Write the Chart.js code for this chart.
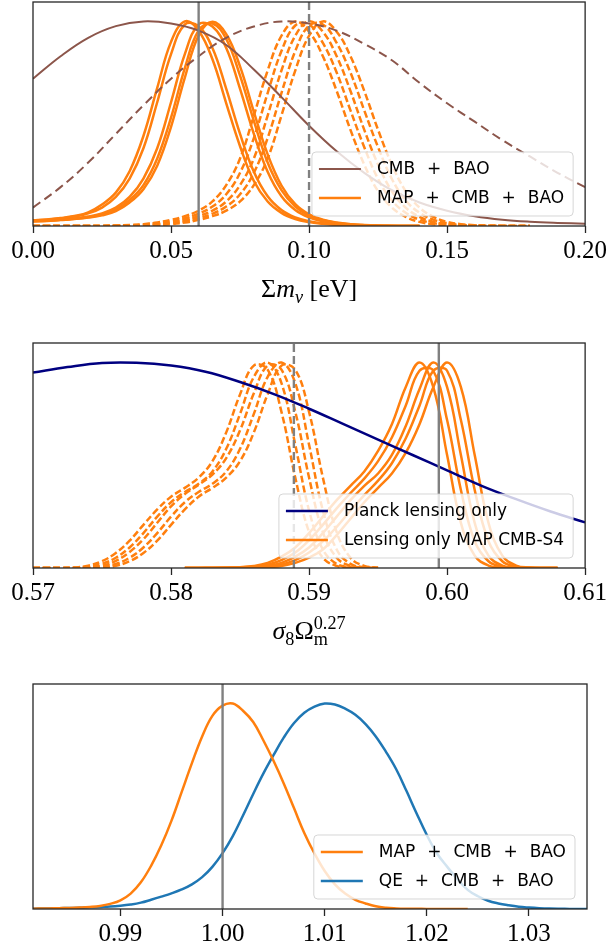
<!DOCTYPE html>
<html lang="en">
<head>
  <meta charset="UTF-8">
  <title>Lensing posteriors</title>
  <script src="https://cdn.jsdelivr.net/npm/chart.js"></script>
  <style>
    html, body { margin: 0; padding: 0; background: #fff; }
    body { width: 610px; height: 952px; position: relative; overflow: hidden; }
    canvas { position: absolute; left: 0; }
  </style>
</head>
<body>

<canvas id="mnuChart" width="610" height="330" style="top:0px"></canvas>
<canvas id="s8Chart" width="610" height="330" style="top:333px"></canvas>
<canvas id="ampChart" width="610" height="278" style="top:674px"></canvas>

<script>
// ---------- top panel: sum of neutrino masses ----------
const mnuGrid = [0,0.005,0.01,0.015,0.02,0.025,0.03,0.035,0.04,0.045,0.05,0.055,0.06,0.065,0.07,0.075,0.08,0.085,0.09,0.095,0.1,0.105,0.11,0.115,0.12,0.125,0.13,0.135,0.14,0.145,0.15,0.155,0.16,0.165,0.17,0.175,0.18,0.185,0.19,0.195,0.2];
const mnuCoarse = [0,0.01,0.02,0.03,0.04,0.05,0.06,0.07,0.08,0.09,0.1,0.11,0.12,0.13,0.14,0.15,0.16,0.17,0.18,0.19,0.2];
const mnuTicks = [0, 0.05, 0.1, 0.15, 0.2];
const mnuTickLabels = ['0.00', '0.05', '0.10', '0.15', '0.20'];
const mnuFiducial = 0.06;
const mnuShifted = 0.10;

// CMB + BAO alone (solid: fiducial sims, dashed: shifted sims)
const cmbBaoFid = [0.72,0.83,0.92,0.977,1.0,0.99,0.955,0.885,0.765,0.63,0.49,0.365,0.26,0.175,0.115,0.075,0.048,0.031,0.021,0.015,0.011];
const cmbBaoShift = [0.09,0.19,0.31,0.45,0.59,0.72,0.83,0.92,0.975,1.0,0.99,0.955,0.89,0.81,0.70,0.60,0.51,0.42,0.34,0.26,0.19];

// MAP + CMB + BAO, five realisations each
const _ = null;
const mnuMapFid = [
  [0.028,0.032,0.039,0.049,0.067,0.105,0.163,0.268,0.44,0.675,0.90,1.0,0.955,0.815,0.60,0.39,0.22,0.12,0.064,0.034,0.019,0.011,0.0055,0.0023,0.001,0.0005,0,0,0,_,_,_,_,_,_,_,_,_,_,_,_],
  [0.027,0.031,0.037,0.046,0.062,0.09,0.142,0.232,0.38,0.605,0.84,0.985,0.975,0.87,0.67,0.45,0.265,0.145,0.078,0.042,0.023,0.013,0.007,0.003,0.0012,0.0005,0,0,0,_,_,_,_,_,_,_,_,_,_,_,_],
  [0.024,0.027,0.031,0.037,0.046,0.062,0.09,0.142,0.232,0.38,0.605,0.84,0.985,0.975,0.87,0.67,0.45,0.265,0.145,0.078,0.042,0.023,0.013,0.007,0.003,0.0012,0.0005,0,0,_,_,_,_,_,_,_,_,_,_,_,_],
  [0.024,0.026,0.030,0.035,0.043,0.056,0.08,0.127,0.2,0.33,0.53,0.772,0.956,0.99,0.914,0.735,0.514,0.31,0.175,0.095,0.05,0.028,0.015,0.008,0.004,0.0017,0.0005,0,0,_,_,_,_,_,_,_,_,_,_,_,_],
  [0.022,0.025,0.029,0.034,0.041,0.052,0.073,0.115,0.18,0.295,0.485,0.725,0.932,0.998,0.938,0.78,0.558,0.35,0.198,0.107,0.057,0.031,0.017,0.009,0.0045,0.002,0.0008,0,0,_,_,_,_,_,_,_,_,_,_,_,_]
];
const mnuMapShift = [
  [0,0,0,0,0,0.0005,0.002,0.005,0.009,0.017,0.03,0.048,0.075,0.12,0.2,0.33,0.54,0.76,0.93,1.0,0.95,0.83,0.66,0.47,0.30,0.17,0.09,0.045,0.02,0.009,0.004,0.0015,0.0005,0,0,0,0,_,_,_,_],
  [0,0,0,0,0,0.0005,0.001,0.003,0.007,0.013,0.023,0.038,0.06,0.095,0.155,0.26,0.43,0.65,0.855,0.98,0.985,0.895,0.75,0.565,0.385,0.23,0.125,0.065,0.031,0.014,0.006,0.0025,0.001,0.0005,0,0,0,_,_,_,_],
  [0,0,0,0,0,0,0.0005,0.002,0.005,0.009,0.017,0.03,0.048,0.075,0.12,0.2,0.33,0.54,0.76,0.93,1.0,0.95,0.83,0.66,0.47,0.30,0.17,0.09,0.045,0.02,0.009,0.004,0.0015,0.0005,0,0,0,_,_,_,_],
  [0,0,0,0,0,0,0.0005,0.001,0.003,0.007,0.013,0.023,0.038,0.06,0.095,0.155,0.26,0.43,0.65,0.855,0.98,0.985,0.895,0.75,0.565,0.385,0.23,0.125,0.065,0.031,0.014,0.006,0.0025,0.001,0.0005,0,0,_,_,_,_],
  [0,0,0,0,0,0,0,0.0005,0.002,0.005,0.009,0.017,0.03,0.048,0.075,0.12,0.2,0.33,0.54,0.76,0.93,1.0,0.95,0.83,0.66,0.47,0.30,0.17,0.09,0.045,0.02,0.009,0.004,0.0015,0.0005,0,0,_,_,_,_]
];

// ---------- middle panel: sigma8 Omega_m^0.27 ----------
const s8Grid = [0.570,0.571,0.572,0.573,0.574,0.575,0.576,0.577,0.578,0.579,0.580,0.581,0.582,0.583,0.584,0.585,0.586,0.587,0.588,0.589,0.590,0.591,0.592,0.593,0.594,0.595,0.596,0.597,0.598,0.599,0.600,0.601,0.602,0.603,0.604,0.605,0.606,0.607,0.608,0.609,0.610];
const planckGrid = [0.57,0.5725,0.575,0.5775,0.58,0.5825,0.585,0.5875,0.59,0.5925,0.595,0.5975,0.6,0.6025,0.605,0.6075,0.61];
const s8Ticks = [0.57, 0.58, 0.59, 0.60, 0.61];
const s8TickLabels = ['0.57', '0.58', '0.59', '0.60', '0.61'];
const s8Fiducial = 0.5994;
const s8Shifted = 0.5889;

const planckLensing = [0.951,0.978,0.998,0.999,0.985,0.955,0.905,0.845,0.775,0.70,0.625,0.55,0.475,0.40,0.335,0.275,0.222];

const s8MapShift = [
  [0,0,0,0.002,0.011,0.033,0.073,0.133,0.21,0.285,0.347,0.39,0.44,0.52,0.66,0.845,0.985,0.965,0.76,0.44,0.175,0.05,0.01,0.002,0,0,_,_,_,_,_,_,_,_,_,_,_,_,_,_,_],
  [0,0,0,0,0.005,0.02,0.05,0.10,0.17,0.25,0.32,0.37,0.41,0.47,0.58,0.75,0.93,1.0,0.90,0.60,0.28,0.09,0.02,0.004,0,0,_,_,_,_,_,_,_,_,_,_,_,_,_,_,_],
  [0,0,0,0,0.002,0.011,0.035,0.078,0.14,0.22,0.30,0.36,0.405,0.455,0.535,0.67,0.85,0.985,0.965,0.76,0.44,0.175,0.05,0.01,0.002,0,_,_,_,_,_,_,_,_,_,_,_,_,_,_,_],
  [0,0,0,0,0,0.005,0.02,0.05,0.10,0.17,0.25,0.32,0.37,0.41,0.47,0.58,0.75,0.93,1.0,0.90,0.60,0.28,0.09,0.02,0.004,0,_,_,_,_,_,_,_,_,_,_,_,_,_,_,_],
  [0,0,0,0,0,0.002,0.011,0.033,0.073,0.133,0.21,0.285,0.347,0.39,0.44,0.52,0.66,0.845,0.985,0.965,0.76,0.44,0.175,0.05,0.01,0.002,_,_,_,_,_,_,_,_,_,_,_,_,_,_,_]
];
const s8MapFid = [
  [_,_,_,_,_,_,_,_,_,_,_,0,0.0005,0.001,0.002,0.004,0.01,0.025,0.055,0.10,0.17,0.25,0.33,0.40,0.47,0.57,0.70,0.88,1.0,0.88,0.55,0.22,0.06,0.012,0.002,0,0,0,0,_,_],
  [_,_,_,_,_,_,_,_,_,_,_,0,0,0.0003,0.0005,0.002,0.007,0.016,0.038,0.075,0.135,0.21,0.29,0.365,0.435,0.52,0.635,0.79,0.96,0.96,0.72,0.38,0.13,0.033,0.006,0.001,0,0,0,_,_],
  [_,_,_,_,_,_,_,_,_,_,_,0,0,0.0005,0.001,0.002,0.004,0.01,0.025,0.055,0.10,0.17,0.25,0.33,0.40,0.46,0.55,0.69,0.87,1.0,0.88,0.55,0.22,0.06,0.012,0.002,0,0,0,_,_],
  [_,_,_,_,_,_,_,_,_,_,_,0,0,0,0.0003,0.0005,0.002,0.007,0.016,0.038,0.075,0.13,0.20,0.28,0.355,0.425,0.51,0.63,0.79,0.96,0.96,0.72,0.38,0.13,0.033,0.006,0.001,0,0,_,_],
  [_,_,_,_,_,_,_,_,_,_,_,0,0,0,0.0005,0.001,0.002,0.004,0.01,0.025,0.05,0.09,0.16,0.24,0.32,0.39,0.46,0.56,0.70,0.88,1.0,0.88,0.55,0.22,0.06,0.012,0.002,0,0,_,_]
];

// ---------- bottom panel: lensing amplitude ----------
const ampGrid = [0.981,0.982,0.983,0.984,0.985,0.986,0.987,0.988,0.989,0.990,0.991,0.992,0.993,0.994,0.995,0.996,0.997,0.998,0.999,1.000,1.001,1.002,1.003,1.004,1.005,1.006,1.007,1.008,1.009,1.010,1.011,1.012,1.013,1.014,1.015,1.016,1.017,1.018,1.019,1.020,1.021,1.022,1.023,1.024,1.025,1.026,1.027,1.028,1.029,1.030,1.031,1.032,1.033,1.034,1.035,1.036];
const ampTicks = [0.99, 1.00, 1.01, 1.02, 1.03];
const ampTickLabels = ['0.99', '1.00', '1.01', '1.02', '1.03'];
const ampFiducial = 1.0;

const ampMap = [0.001,0.002,0.003,0.004,0.005,0.007,0.01,0.015,0.025,0.042,0.075,0.13,0.21,0.31,0.43,0.57,0.71,0.84,0.94,0.99,1.0,0.965,0.91,0.82,0.72,0.61,0.49,0.37,0.27,0.185,0.12,0.075,0.045,0.027,0.013,0.006,0.003,0.0015,0.001,0.0005,0.0005,0.0005,0.0005,0,_,_,_,_,_,_,_,_,_,_,_,_];
const ampQE = [0.001,0.002,0.003,0.004,0.005,0.006,0.008,0.01,0.012,0.016,0.022,0.031,0.045,0.06,0.076,0.095,0.12,0.155,0.205,0.272,0.355,0.455,0.56,0.66,0.75,0.835,0.905,0.955,0.985,1.0,0.995,0.975,0.945,0.9,0.84,0.765,0.68,0.575,0.465,0.36,0.27,0.205,0.145,0.093,0.062,0.04,0.027,0.018,0.011,0.007,0.004,0.002,0.001,0.0005,0.0003,0.0002];

// ---------- styling ----------
const ORANGE = '#ff7f0e', BROWN = '#8c564b', NAVY = '#000080', BLUE = '#1f77b4', GRAY = '#808080';
const Y_TOP = 1.095;
const SERIF = '"Liberation Serif", "DejaVu Serif", serif';
const SANS = '"DejaVu Sans", sans-serif';

function curve(xs, ys, color, opts = {}) {
  return {
    data: xs.map((x, i) => ({ x: x, y: ys[i] })),
    borderColor: color,
    borderWidth: opts.width || 2.5,
    borderDash: opts.dash || [],
    order: opts.order == null ? 2 : opts.order,
    spanGaps: false
  };
}

function vline(x, dashed) {
  return {
    data: [{ x: x, y: 0 }, { x: x, y: Y_TOP }],
    borderColor: GRAY,
    borderWidth: 2.4,
    borderDash: dashed ? [8, 4] : [],
    tension: 0,
    order: 0
  };
}

function drawMath(ctx, parts, cx, base, size) {
  const small = size * 0.7;
  const fontOf = (p, s) => (p.it ? 'italic ' : '') + s + 'px ' + SERIF;
  const widths = parts.map(p => {
    ctx.font = fontOf(p, p.sub ? small : size);
    let w = ctx.measureText(p.t).width;
    if (p.sup) {
      ctx.font = fontOf({}, small);
      w = Math.max(w, ctx.measureText(p.sup).width);
    }
    return w;
  });
  let x = cx - widths.reduce((a, b) => a + b, 0) / 2;
  ctx.fillStyle = '#000';
  ctx.textBaseline = 'alphabetic';
  ctx.textAlign = 'left';
  parts.forEach((p, i) => {
    ctx.font = fontOf(p, p.sub ? small : size);
    ctx.fillText(p.t, x, p.sub ? base + size * 0.22 : base);
    if (p.sup) {
      ctx.font = fontOf({}, small);
      ctx.fillText(p.sup, x, base - size * 0.4);
    }
    x += widths[i];
  });
}

// frame, inset legend and math axis label
const panelDecor = {
  id: 'panelDecor',
  afterDatasetsDraw(chart, args, opts) {
    const { ctx, chartArea: a } = chart;
    if (!opts.items) return;
    ctx.save();
    ctx.font = '17px ' + SANS;
    const texts = opts.items.map(it => it.label.replace(/ \+ /g, '\u2002\u2009+\u2002\u2009'));
    const textW = Math.max(...texts.map(t => ctx.measureText(t).width));
    const w = 7 + 42 + 16 + textW + 9;
    const h = 64;
    const x0 = a.right - 12 - w;
    const y0 = a.bottom - 10 - h;
    ctx.beginPath();
    ctx.roundRect(x0, y0, w, h, 4);
    ctx.fillStyle = 'rgba(255,255,255,0.8)';
    ctx.fill();
    ctx.strokeStyle = 'rgba(204,204,204,0.8)';
    ctx.lineWidth = 1;
    ctx.stroke();
    opts.items.forEach((it, i) => {
      const cy = y0 + 17 + i * 29;
      ctx.beginPath();
      ctx.moveTo(x0 + 7, cy);
      ctx.lineTo(x0 + 49, cy);
      ctx.strokeStyle = it.color;
      ctx.lineWidth = it.width || 2.5;
      ctx.stroke();
      ctx.fillStyle = '#000';
      ctx.textBaseline = 'middle';
      ctx.fillText(texts[i], x0 + 65, cy + 1);
    });
    ctx.restore();
  },
  afterDraw(chart, args, opts) {
    const { ctx, chartArea: a } = chart;
    ctx.save();
    ctx.strokeStyle = '#262626';
    ctx.lineWidth = 1.3;
    ctx.strokeRect(a.left, a.top, a.right - a.left, a.bottom - a.top);
    if (opts.title) drawMath(ctx, opts.title, (a.left + a.right) / 2, a.bottom + 71, 26);
    ctx.restore();
  }
};

function panel(id, cfg) {
  return new Chart(document.getElementById(id), {
    type: 'line',
    data: { datasets: cfg.datasets },
    plugins: [panelDecor],
    options: {
      responsive: false,
      animation: false,
      devicePixelRatio: 1,
      layout: { padding: { left: 33, right: 23, top: cfg.top, bottom: 0 } },
      elements: {
        point: { radius: 0 },
        line: { tension: 0.4, fill: false, borderCapStyle: 'butt', borderJoinStyle: 'round' }
      },
      scales: {
        x: {
          type: 'linear',
          min: cfg.xMin,
          max: cfg.xMax,
          afterBuildTicks: s => { s.ticks = cfg.ticks.map(v => ({ value: v })); },
          afterFit: s => { s.height = cfg.axisHeight; },
          ticks: {
            callback: (v, i) => cfg.tickLabels[i],
            font: { family: SERIF, size: 25 },
            color: '#000',
            padding: 3,
            maxRotation: 0,
            autoSkip: false
          },
          grid: { drawOnChartArea: false, drawTicks: true, tickLength: 7, tickColor: '#262626', tickWidth: 1.3 },
          border: { display: false }
        },
        y: { display: false, min: 0, max: Y_TOP }
      },
      plugins: {
        legend: { display: false },
        tooltip: { enabled: false },
        panelDecor: { items: cfg.legend, title: cfg.title }
      }
    }
  });
}

// top
panel('mnuChart', {
  top: 2, axisHeight: 104, xMin: 0, xMax: 0.2,
  ticks: mnuTicks, tickLabels: mnuTickLabels,
  legend: [{ label: 'CMB + BAO', color: BROWN, width: 2 }, { label: 'MAP + CMB + BAO', color: ORANGE }],
  title: [{ t: 'Σ' }, { t: 'm', it: true }, { t: 'ν', it: true, sub: true }, { t: ' [eV]' }],
  datasets: [
    vline(mnuFiducial, false),
    vline(mnuShifted, true),
    curve(mnuCoarse, cmbBaoFid, BROWN, { width: 2, order: 1 }),
    curve(mnuCoarse, cmbBaoShift, BROWN, { width: 2, dash: [9, 5], order: 1 }),
    ...mnuMapFid.map(ys => curve(mnuGrid, ys, ORANGE)),
    ...mnuMapShift.map(ys => curve(mnuGrid, ys, ORANGE, { dash: [7, 3] }))
  ]
});

// middle
panel('s8Chart', {
  top: 10, axisHeight: 95, xMin: 0.57, xMax: 0.61,
  ticks: s8Ticks, tickLabels: s8TickLabels,
  legend: [{ label: 'Planck lensing only', color: NAVY }, { label: 'Lensing only MAP CMB-S4', color: ORANGE }],
  title: [{ t: 'σ', it: true }, { t: '8', sub: true }, { t: 'Ω' }, { t: 'm', sub: true, sup: '0.27' }],
  datasets: [
    vline(s8Fiducial, false),
    vline(s8Shifted, true),
    curve(planckGrid, planckLensing, NAVY, { order: 1 }),
    ...s8MapFid.map(ys => curve(s8Grid, ys, ORANGE)),
    ...s8MapShift.map(ys => curve(s8Grid, ys, ORANGE, { dash: [7, 3] }))
  ]
});

// bottom
panel('ampChart', {
  top: 10, axisHeight: 43, xMin: 0.98144, xMax: 1.03568,
  ticks: ampTicks, tickLabels: ampTickLabels,
  legend: [{ label: 'MAP + CMB + BAO', color: ORANGE }, { label: 'QE + CMB + BAO', color: BLUE }],
  datasets: [
    vline(ampFiducial, false),
    curve(ampGrid, ampMap, ORANGE, { order: 1 }),
    curve(ampGrid, ampQE, BLUE, { order: 2 })
  ]
});
</script>

</body>
</html>
